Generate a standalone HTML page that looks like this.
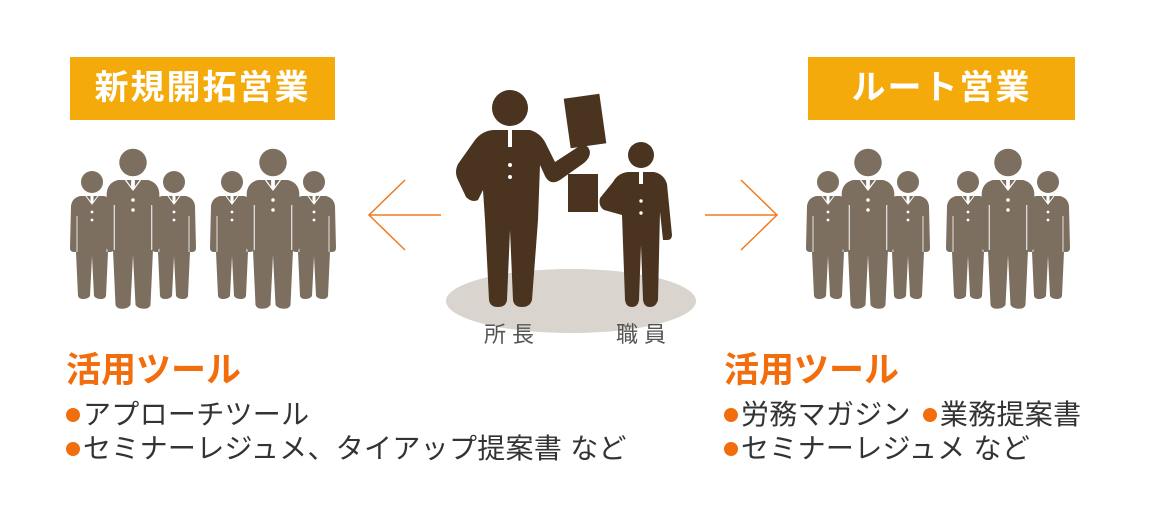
<!DOCTYPE html>
<html><head><meta charset="utf-8"><style>
body{margin:0;background:#fff;width:1160px;height:520px;overflow:hidden;position:relative;font-family:"Liberation Sans","Noto Sans CJK JP",sans-serif}
.box{position:absolute;background:#f5aa0c;color:#fff;font-weight:bold;font-size:34px;letter-spacing:2px;text-align:center;line-height:63px;height:63px;top:57px}
.h{position:absolute;color:#f26d0c;font-weight:bold;font-size:35px}
.l{position:absolute;color:#333;font-size:28px;letter-spacing:0.3px;white-space:nowrap}
.d{display:inline-block;width:14px;height:14px;border-radius:50%;background:#f26d0c;margin-right:3px;vertical-align:2px}
svg{position:absolute;left:0;top:0}
</style></head><body>
<svg width="1160" height="520">
<defs>
<g id="p">
<circle cx="0" cy="-14" r="11"/>
<path d="M-12,0 L12,0 Q20,2 21,10 L22,52 Q22,56 18,56 L16,56 L14,100 Q13,103 9,103 Q4,103 2,100 L0,60 L-2,100 Q-4,103 -9,103 Q-13,103 -14,100 L-16,56 L-18,56 Q-22,56 -22,52 L-21,10 Q-20,2 -12,0 Z"/>
<path d="M-6,0 L0,8 L6,0" fill="none" stroke="#fff" stroke-width="1"/>
<rect x="-1.5" y="0" width="3" height="7" fill="#fff"/>
<circle cx="0" cy="16" r="1.4" fill="#fff"/><circle cx="0" cy="24" r="1.4" fill="#fff"/>
<line x1="-15" y1="20" x2="-15" y2="56" stroke="#fff" stroke-width="0.8"/>
<line x1="15" y1="20" x2="15" y2="56" stroke="#fff" stroke-width="0.8"/>
</g>
</defs>
<g fill="#7d6f5f">
<use href="#p" transform="translate(92,196)"/>
<use href="#p" transform="translate(174,196)"/>
<use href="#p" transform="translate(133,180) scale(1.25)"/>
<use href="#p" transform="translate(232,196)"/>
<use href="#p" transform="translate(314,196)"/>
<use href="#p" transform="translate(273,180) scale(1.25)"/>
<use href="#p" transform="translate(828,196)"/>
<use href="#p" transform="translate(908,196)"/>
<use href="#p" transform="translate(868,180) scale(1.25)"/>
<use href="#p" transform="translate(968,196)"/>
<use href="#p" transform="translate(1048,196)"/>
<use href="#p" transform="translate(1008,180) scale(1.25)"/>
</g>
<ellipse cx="571" cy="301" rx="125" ry="32" fill="#d9d5ce"/>
<g fill="#4a3420">
<circle cx="510" cy="108" r="18"/>
<rect x="567" y="96" width="36" height="50" transform="rotate(-8 585 121)"/>
<path d="M493,130 L530,130 Q540,133 545,142 L555,162 L578,147 Q588,142 590,152 Q590,158 584,163 L560,180 Q550,186 545,176 L540,165 L538,220 L532,300 Q530,307 522,307 Q514,307 513,300 L510,230 L507,300 Q506,307 498,307 Q490,307 489,300 L485,220 L483,190 L478,200 Q472,203 466,197 L458,180 Q454,172 458,164 L475,140 Q482,131 493,130 Z"/>
<circle cx="641" cy="155" r="13"/>
<rect x="568" y="174" width="30" height="38"/>
<path d="M628,172 L654,172 Q664,174 667,184 L672,235 Q672,240 667,240 L663,240 L660,212 L658,300 Q656,307 650,307 Q644,307 643,300 L641,245 L639,300 Q638,307 632,307 Q626,307 625,300 L622,215 L604,210 Q598,206 600,198 L613,182 Q618,173 628,172 Z"/>
</g>
<g fill="#fff">
<rect x="508" y="130" width="4" height="17"/><circle cx="510" cy="165" r="2"/><circle cx="510" cy="177" r="2"/>
<rect x="639" y="172" width="4" height="12"/><circle cx="641" cy="201" r="1.7"/><circle cx="641" cy="213" r="1.7"/>
</g>
<g stroke="#f07a20" stroke-width="1.5" fill="none">
<path d="M441,215 L369,215 M405,180 L369,215 L405,250"/>
<path d="M705,215 L777,215 M741,180 L777,215 L741,250"/>
</g>
<text x="512" y="342" font-size="22" fill="#555" text-anchor="middle" font-family="Liberation Sans,Noto Sans CJK JP,sans-serif" letter-spacing="6">所長</text>
<text x="644" y="342" font-size="22" fill="#555" text-anchor="middle" font-family="Liberation Sans,Noto Sans CJK JP,sans-serif" letter-spacing="6">職員</text>
</svg>
<div class="box" style="left:70px;width:265px">新規開拓営業</div>
<div class="box" style="left:808px;width:267px">ルート営業</div>
<div class="h" style="left:66px;top:342px">活用ツール</div>
<div class="l" style="left:66px;top:393px"><span class="d"></span>アプローチツール</div>
<div class="l" style="left:66px;top:427px"><span class="d"></span>セミナーレジュメ、タイアップ提案書 など</div>
<div class="h" style="left:724px;top:342px">活用ツール</div>
<div class="l" style="left:724px;top:393px"><span class="d"></span>労務マガジン <span class="d" style="margin-left:4px"></span>業務提案書</div>
<div class="l" style="left:724px;top:427px"><span class="d"></span>セミナーレジュメ など</div>
</body></html>
